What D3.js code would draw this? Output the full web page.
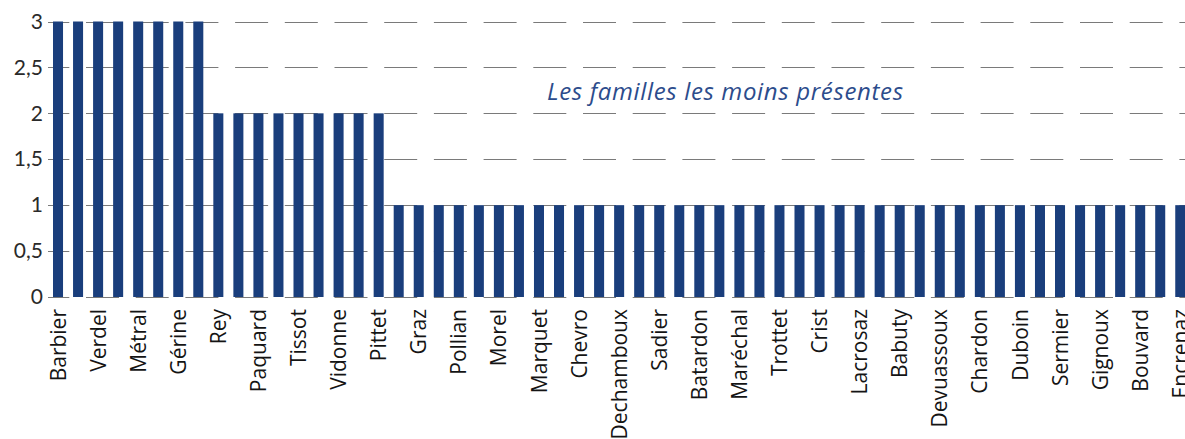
<!DOCTYPE html>
<html>
<head>
<meta charset="utf-8">
<script src="https://cdnjs.cloudflare.com/ajax/libs/d3/7.8.5/d3.min.js"></script>
<style>
  body { margin: 0; background: #fff; }
  svg { display: block; }
</style>
</head>
<body>
<svg id="chart" width="1185" height="439"></svg>
<script>
// shown labels (every other bar carries a name)
var labels = ["Barbier", "Verdel", "Métral", "Gérine", "Rey", "Paquard", "Tissot",
  "Vidonne", "Pittet", "Graz", "Pollian", "Morel", "Marquet", "Chevro",
  "Dechamboux", "Sadier", "Batardon", "Maréchal", "Trottet", "Crist",
  "Lacrosaz", "Babuty", "Devuassoux", "Chardon", "Duboin", "Sermier",
  "Gignoux", "Bouvard", "Encrenaz"];

// number of people per family, one per bar
var values = [3, 3, 3, 3, 3, 3, 3, 3,
  2, 2, 2, 2, 2, 2, 2, 2, 2,
  1, 1, 1, 1, 1, 1, 1, 1, 1, 1,
  1, 1, 1, 1, 1, 1, 1, 1, 1, 1,
  1, 1, 1, 1, 1, 1, 1, 1, 1, 1,
  1, 1, 1, 1, 1, 1, 1, 1, 1, 1];

var yTicks = [0, 0.5, 1, 1.5, 2, 2.5, 3];
var title = "Les familles les moins présentes";

var svg = d3.select("#chart");

var x = d3.scaleBand()
    .domain(d3.range(values.length))
    .range([48, 48 + values.length * 20.04])
    .paddingInner(0.5)
    .paddingOuter(0.25);

var y = d3.scaleLinear()
    .domain([0, 3])
    .range([297, 21.5]);

// dashed grid lines
svg.append("g").selectAll("line")
    .data(yTicks)
    .enter()
    .append("line")
    .attr("x1", 48)
    .attr("x2", 1185)
    .attr("y1", function (d) { return Math.round(y(d)) + 0.5; })
    .attr("y2", function (d) { return Math.round(y(d)) + 0.5; })
    .attr("stroke", "#7a7a7a")
    .attr("stroke-width", 1.2)
    .attr("stroke-dasharray", "33,16.7")
    .attr("stroke-dashoffset", 11.7);

// y axis labels
var yAxis = svg.append("g")
    .attr("transform", "translate(48,0)")
    .call(d3.axisLeft(y)
        .tickValues(yTicks)
        .tickSize(0)
        .tickPadding(5)
        .tickFormat(function (d) { return String(d).replace(".", ","); }));
yAxis.select(".domain").remove();
yAxis.selectAll("text")
    .attr("font-family", "Lato, sans-serif")
    .attr("font-size", 21)
    .attr("fill", "#2a2a2a");

// bars
svg.append("g").selectAll("rect")
    .data(values)
    .enter()
    .append("rect")
    .attr("x", function (d, i) { return x(i); })
    .attr("width", x.bandwidth())
    .attr("y", function (d) { return y(d); })
    .attr("height", function (d) { return y(0) - y(d); })
    .attr("fill", "#1a3e7c");

// x axis labels, rotated
var xAxis = svg.append("g")
    .attr("transform", "translate(0,297)")
    .call(d3.axisBottom(x)
        .tickValues(d3.range(0, values.length, 2))
        .tickSize(0)
        .tickFormat(function (i) { return labels[i / 2]; }));
xAxis.select(".domain").remove();
xAxis.selectAll("text")
    .attr("font-family", "'Open Sans', sans-serif")
    .attr("font-size", 21)
    .attr("fill", "#141414")
    .attr("text-anchor", "end")
    .attr("transform", "translate(0,12) rotate(-90)")
    .attr("x", 0)
    .attr("y", 0)
    .attr("dy", "0.36em");

// title
svg.append("text")
    .attr("x", 547)
    .attr("y", 100)
    .attr("font-family", "'Open Sans', sans-serif")
    .attr("font-style", "italic")
    .attr("font-size", 24)
    .attr("letter-spacing", 0.65)
    .attr("fill", "#2c4c8c")
    .text(title);
</script>
</body>
</html>
